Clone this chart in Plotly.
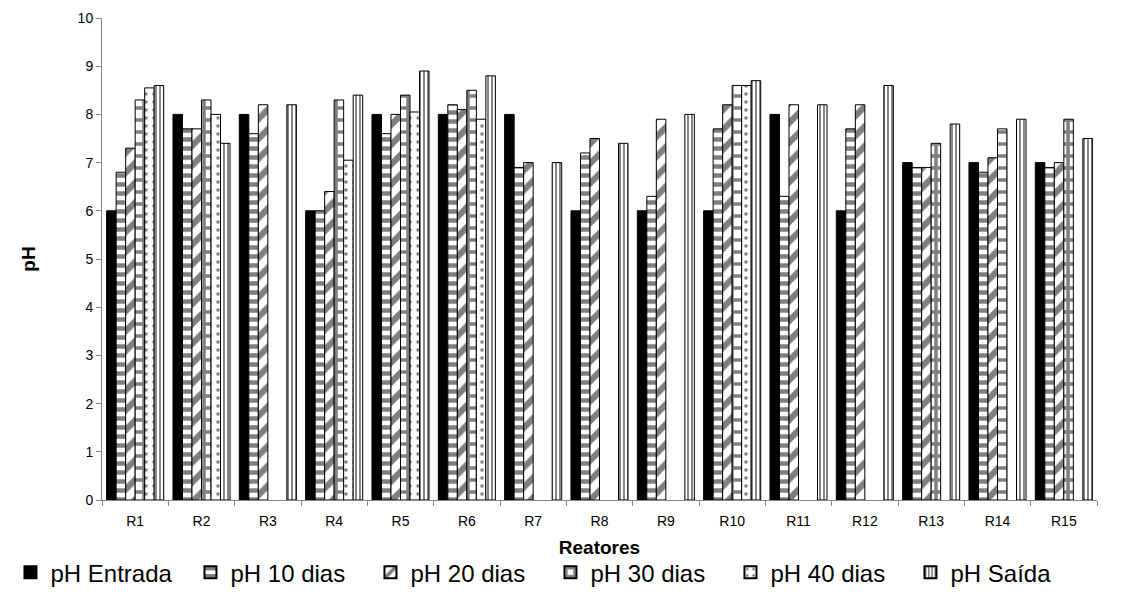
import plotly.graph_objects as go

categories = ["R1", "R2", "R3", "R4", "R5", "R6", "R7", "R8", "R9", "R10", "R11", "R12", "R13", "R14", "R15"]
ph_entrada = [6.0, 8.0, 8.0, 6.0, 8.0, 8.0, 8.0, 6.0, 6.0, 6.0, 8.0, 6.0, 7.0, 7.0, 7.0]
ph_10 = [6.8, 7.7, 7.6, 6.0, 7.6, 8.2, 6.9, 7.2, 6.3, 7.7, 6.3, 7.7, 6.9, 6.8, 6.9]
ph_20 = [7.3, 7.7, 8.2, 6.4, 8.0, 8.1, 7.0, 7.5, 7.9, 8.2, 8.2, 8.2, 6.9, 7.1, 7.0]
ph_30 = [8.3, 8.3, None, 8.3, 8.4, 8.5, None, None, None, 8.6, None, None, 7.4, 7.7, 7.9]
ph_40 = [8.55, 8.0, None, 7.05, 8.05, 7.9, None, None, None, 8.6, None, None, None, None, None]
ph_saida = [8.6, 7.4, 8.2, 8.4, 8.9, 8.8, 7.0, 7.4, 8.0, 8.7, 8.2, 8.6, 7.8, 7.9, 7.5]

series = [
    ("pH Entrada", ph_entrada, dict(shape="", fgcolor="black", bgcolor="black")),
    ("pH 10 dias", ph_10, dict(shape="-", fgcolor="black", bgcolor="white", size=9, solidity=0.5)),
    ("pH 20 dias", ph_20, dict(shape="/", fgcolor="black", bgcolor="white", size=14, solidity=0.45)),
    ("pH 30 dias", ph_30, dict(shape="+", fgcolor="black", bgcolor="white", size=12, solidity=0.5)),
    ("pH 40 dias", ph_40, dict(shape=".", fgcolor="black", bgcolor="white", size=8, solidity=0.15)),
    ("pH Saída", ph_saida, dict(shape="|", fgcolor="#111111", bgcolor="white", size=4, solidity=0.5)),
]

fig = go.Figure()
for name, vals, pat in series:
    color = "black" if name == "pH Entrada" else "white"
    fig.add_trace(go.Bar(
        x=categories, y=vals, name=name,
        marker=dict(color=color, pattern=pat, line=dict(color="black", width=1)),
    ))

font_family = "Liberation Sans, Arial, sans-serif"
fig.update_layout(
    width=1128, height=607,
    margin=dict(l=97, r=31, t=10, b=107),
    paper_bgcolor="white", plot_bgcolor="white",
    barmode="group", bargap=0.14, bargroupgap=0,
    font=dict(family=font_family, color="black", size=14),
    showlegend=True,
    legend=dict(orientation="h", x=-0.092, xanchor="left", y=-0.104, yanchor="top",
                font=dict(size=24, family=font_family), entrywidth=135, entrywidthmode="pixels",
                itemsizing="constant", itemwidth=30, tracegroupgap=0),
    xaxis=dict(
        type="category", showline=True, linecolor="#888888", linewidth=1,
        ticks="outside", tickson="boundaries", ticklen=5, tickcolor="#888888",
        tickfont=dict(size=14), showgrid=False, ticklabelstandoff=8,
        title=dict(text="<b>Reatores</b>", font=dict(size=19), standoff=12),
    ),
    yaxis=dict(
        range=[0, 10], dtick=1, showline=True, linecolor="#888888", linewidth=1,
        ticks="outside", ticklen=5, tickcolor="#888888", tickfont=dict(size=14),
        showgrid=False, zeroline=False,
        title=dict(text="<b>pH</b>", font=dict(size=19), standoff=36),
    ),
)

fig.write_html("out.html")
